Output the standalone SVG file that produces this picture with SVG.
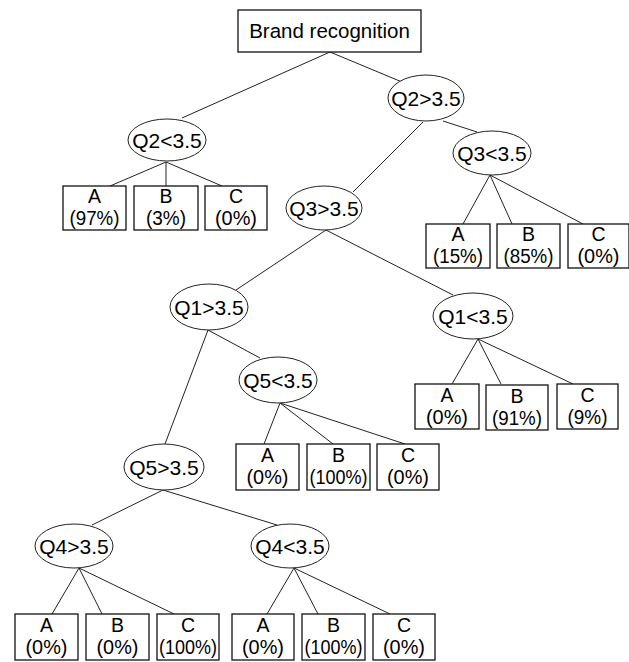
<svg xmlns="http://www.w3.org/2000/svg" width="629" height="662" viewBox="0 0 629 662">
<style>
text{font-family:"Liberation Sans",Arial,sans-serif;fill:#000;text-anchor:middle}
.r{font-size:20.5px}
.t{font-size:21px}
.l{font-size:19.5px}
.box{fill:#fff;stroke:#111;stroke-width:1.3}
.ell{fill:#fff;stroke:#222;stroke-width:1}
.edge{stroke:#222;stroke-width:1;fill:none}
</style>
<rect width="629" height="662" fill="#fff"/>
<g id="connectors" class="edge">
<line x1="330" y1="52" x2="182" y2="118"/>
<line x1="330" y1="52" x2="402" y2="82"/>
<line x1="166" y1="162" x2="110" y2="186"/>
<line x1="166" y1="162" x2="166" y2="186"/>
<line x1="166" y1="162" x2="222" y2="186"/>
<line x1="423" y1="122" x2="353" y2="192"/>
<line x1="443" y1="121" x2="477" y2="132"/>
<line x1="490" y1="175" x2="463" y2="224"/>
<line x1="490" y1="175" x2="512" y2="224"/>
<line x1="490" y1="175" x2="583" y2="224"/>
<line x1="326" y1="230" x2="236" y2="290"/>
<line x1="326" y1="230" x2="453" y2="295"/>
<line x1="208" y1="330" x2="165" y2="444"/>
<line x1="208" y1="330" x2="260" y2="358"/>
<line x1="478" y1="339" x2="452" y2="384"/>
<line x1="478" y1="339" x2="501" y2="384"/>
<line x1="478" y1="339" x2="573" y2="384"/>
<line x1="280" y1="403" x2="264" y2="444"/>
<line x1="280" y1="403" x2="333" y2="444"/>
<line x1="280" y1="403" x2="405" y2="444"/>
<line x1="163" y1="490" x2="92" y2="525"/>
<line x1="163" y1="490" x2="277" y2="525"/>
<line x1="79" y1="568" x2="52" y2="614"/>
<line x1="79" y1="568" x2="102" y2="614"/>
<line x1="79" y1="568" x2="174" y2="614"/>
<line x1="294" y1="568" x2="267" y2="614"/>
<line x1="294" y1="568" x2="318" y2="614"/>
<line x1="294" y1="568" x2="390" y2="614"/>
</g>
<g id="root"><rect class="box" x="238" y="10" width="183" height="42"/><text class="r" x="329.5" y="38">Brand recognition</text></g>
<g id="q2lt"><ellipse class="ell" cx="167" cy="140" rx="39" ry="21"/><text class="t" x="167" y="147.5">Q2&lt;3.5</text></g>
<g id="q2gt"><ellipse class="ell" cx="426" cy="98" rx="38" ry="23"/><text class="t" x="426" y="105.5">Q2&gt;3.5</text></g>
<g id="q3gt"><ellipse class="ell" cx="324" cy="208" rx="38" ry="22"/><text class="t" x="324" y="215.5">Q3&gt;3.5</text></g>
<g id="q3lt"><ellipse class="ell" cx="492" cy="153" rx="39" ry="22"/><text class="t" x="492" y="160.5">Q3&lt;3.5</text></g>
<g id="q1gt"><ellipse class="ell" cx="209" cy="307" rx="39" ry="23"/><text class="t" x="209" y="314.5">Q1&gt;3.5</text></g>
<g id="q1lt"><ellipse class="ell" cx="473" cy="316" rx="40" ry="23"/><text class="t" x="473" y="323.5">Q1&lt;3.5</text></g>
<g id="q5lt"><ellipse class="ell" cx="278" cy="380" rx="39" ry="23"/><text class="t" x="278" y="387.5">Q5&lt;3.5</text></g>
<g id="q5gt"><ellipse class="ell" cx="164" cy="467" rx="40" ry="23"/><text class="t" x="164" y="474.5">Q5&gt;3.5</text></g>
<g id="q4gt"><ellipse class="ell" cx="74" cy="546" rx="39" ry="22"/><text class="t" x="74" y="553.5">Q4&gt;3.5</text></g>
<g id="q4lt"><ellipse class="ell" cx="290" cy="546" rx="39" ry="22"/><text class="t" x="290" y="553.5">Q4&lt;3.5</text></g>
<g id="l1a"><rect class="box" x="63" y="186" width="63" height="44"/><text class="l" x="94.5" y="203">A</text><text class="l" x="94.5" y="225" textLength="50" lengthAdjust="spacingAndGlyphs">(97%)</text></g>
<g id="l1b"><rect class="box" x="134" y="186" width="64" height="44"/><text class="l" x="166" y="203">B</text><text class="l" x="166" y="225" textLength="40" lengthAdjust="spacingAndGlyphs">(3%)</text></g>
<g id="l1c"><rect class="box" x="205" y="186" width="62" height="44"/><text class="l" x="236" y="203">C</text><text class="l" x="236" y="225" textLength="42" lengthAdjust="spacingAndGlyphs">(0%)</text></g>
<g id="l2a"><rect class="box" x="426" y="224" width="64" height="44"/><text class="l" x="458" y="241">A</text><text class="l" x="458" y="263" textLength="50" lengthAdjust="spacingAndGlyphs">(15%)</text></g>
<g id="l2b"><rect class="box" x="497" y="224" width="63" height="44"/><text class="l" x="528.5" y="241">B</text><text class="l" x="528.5" y="263" textLength="50" lengthAdjust="spacingAndGlyphs">(85%)</text></g>
<g id="l2c"><rect class="box" x="568" y="224" width="61" height="44"/><text class="l" x="598.5" y="241">C</text><text class="l" x="598.5" y="263" textLength="42" lengthAdjust="spacingAndGlyphs">(0%)</text></g>
<g id="l3a"><rect class="box" x="415" y="384" width="64" height="45"/><text class="l" x="447" y="401.5">A</text><text class="l" x="447" y="423.5" textLength="42" lengthAdjust="spacingAndGlyphs">(0%)</text></g>
<g id="l3b"><rect class="box" x="486" y="385" width="62" height="45"/><text class="l" x="517" y="402.5">B</text><text class="l" x="517" y="424.5" textLength="50" lengthAdjust="spacingAndGlyphs">(91%)</text></g>
<g id="l3c"><rect class="box" x="557" y="384" width="61" height="45"/><text class="l" x="587.5" y="401.5">C</text><text class="l" x="587.5" y="423.5" textLength="40" lengthAdjust="spacingAndGlyphs">(9%)</text></g>
<g id="l4a"><rect class="box" x="236" y="444" width="63" height="46"/><text class="l" x="267.5" y="462">A</text><text class="l" x="267.5" y="484" textLength="42" lengthAdjust="spacingAndGlyphs">(0%)</text></g>
<g id="l4b"><rect class="box" x="307" y="444" width="63" height="46"/><text class="l" x="338.5" y="462">B</text><text class="l" x="338.5" y="484" textLength="58" lengthAdjust="spacingAndGlyphs">(100%)</text></g>
<g id="l4c"><rect class="box" x="377" y="444" width="62" height="46"/><text class="l" x="408" y="462">C</text><text class="l" x="408" y="484" textLength="42" lengthAdjust="spacingAndGlyphs">(0%)</text></g>
<g id="l5a"><rect class="box" x="15" y="614" width="63" height="46"/><text class="l" x="46.5" y="632">A</text><text class="l" x="46.5" y="654" textLength="42" lengthAdjust="spacingAndGlyphs">(0%)</text></g>
<g id="l5b"><rect class="box" x="86" y="614" width="63" height="46"/><text class="l" x="117.5" y="632">B</text><text class="l" x="117.5" y="654" textLength="42" lengthAdjust="spacingAndGlyphs">(0%)</text></g>
<g id="l5c"><rect class="box" x="157" y="614" width="62" height="46"/><text class="l" x="188" y="632">C</text><text class="l" x="188" y="654" textLength="58" lengthAdjust="spacingAndGlyphs">(100%)</text></g>
<g id="l6a"><rect class="box" x="232" y="614" width="62" height="46"/><text class="l" x="263" y="632">A</text><text class="l" x="263" y="654" textLength="42" lengthAdjust="spacingAndGlyphs">(0%)</text></g>
<g id="l6b"><rect class="box" x="302" y="614" width="63" height="46"/><text class="l" x="333.5" y="632">B</text><text class="l" x="333.5" y="654" textLength="58" lengthAdjust="spacingAndGlyphs">(100%)</text></g>
<g id="l6c"><rect class="box" x="373" y="614" width="62" height="46"/><text class="l" x="404" y="632">C</text><text class="l" x="404" y="654" textLength="42" lengthAdjust="spacingAndGlyphs">(0%)</text></g>
</svg>
